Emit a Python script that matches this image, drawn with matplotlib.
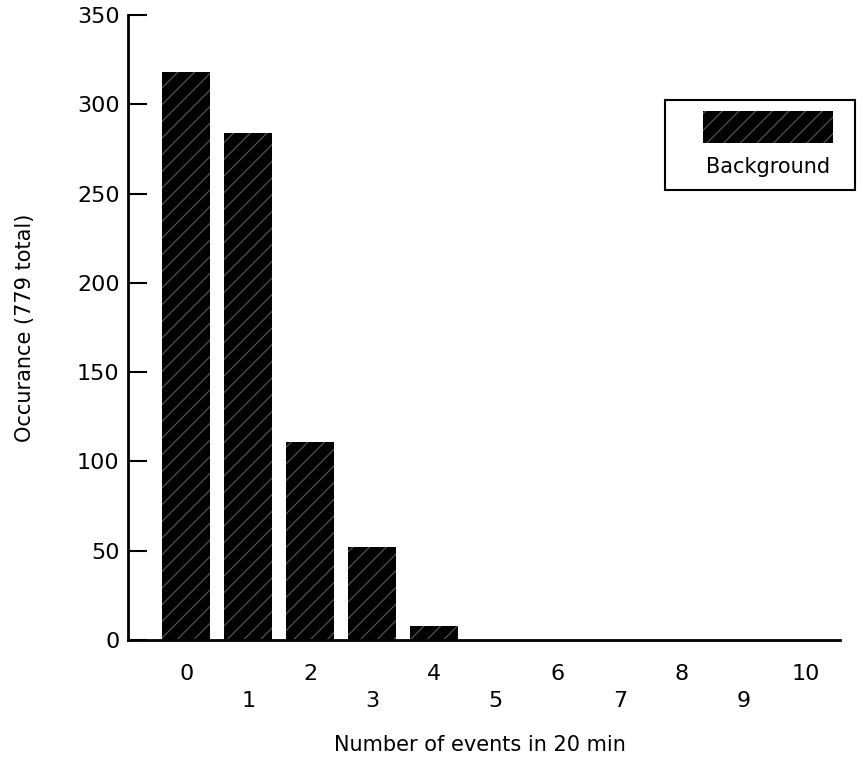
import matplotlib
matplotlib.use("Agg")
import matplotlib.pyplot as plt
from matplotlib.patches import Rectangle

categories = [0, 1, 2, 3, 4, 5, 6, 7, 8, 9, 10]
values = [318, 284, 111, 52, 8, 0, 0, 0, 0, 0, 0]
yticks = [0, 50, 100, 150, 200, 250, 300, 350]

plt.rcParams['font.family'] = ['DejaVu Sans']
plt.rcParams['hatch.linewidth'] = 0.8

fig = plt.figure(figsize=(8.63, 7.59), dpi=100)
ax = fig.add_axes([0.1483, 0.1568, 0.8247, 0.8232])

ax.bar(categories, values, width=0.77, color='black', edgecolor='black', linewidth=0)
ax.bar(categories, values, width=0.77, facecolor='none', edgecolor='#5a5a5a',
       linewidth=0, hatch='//')

ax.set_xlim(-0.94, 10.55)
ax.set_ylim(0, 350)
ax.spines['top'].set_visible(False)
ax.spines['right'].set_visible(False)
ax.spines['left'].set_linewidth(2)
ax.spines['bottom'].set_linewidth(2)

ax.set_yticks(yticks)
ax.set_yticklabels([str(t) for t in yticks], fontsize=16)
ax.tick_params(axis='y', direction='in', length=14, width=1.5, pad=6)
ax.set_xticks([])

for c in categories:
    yoff = -0.055 if c % 2 == 0 else -0.098
    ax.text(c, yoff, str(c), transform=ax.get_xaxis_transform(),
            ha='center', va='center', fontsize=16)

ax.set_ylabel('Occurance (779 total)', fontsize=15, labelpad=30)
fig.text(0.556, 0.005, 'Number of events in 20 min', ha='center', va='bottom', fontsize=15)

# custom legend
lx0, ly0, lw, lh = 665 / 863, 1 - 190 / 759, 190 / 863, 90 / 759
fig.patches.append(Rectangle((lx0, ly0), lw, lh, transform=fig.transFigure,
                             facecolor='white', edgecolor='black', linewidth=1.5))
px0, py0, pw, ph = 703 / 863, 1 - 143 / 759, 130 / 863, 32 / 759
fig.patches.append(Rectangle((px0, py0), pw, ph, transform=fig.transFigure,
                             facecolor='black', edgecolor='black', linewidth=0))
fig.patches.append(Rectangle((px0, py0), pw, ph, transform=fig.transFigure,
                             facecolor='none', edgecolor='#5a5a5a', linewidth=0, hatch='//'))
fig.text(768 / 863, 1 - 167 / 759, 'Background', ha='center', va='center', fontsize=15)

fig.savefig('out.png', dpi=100)
